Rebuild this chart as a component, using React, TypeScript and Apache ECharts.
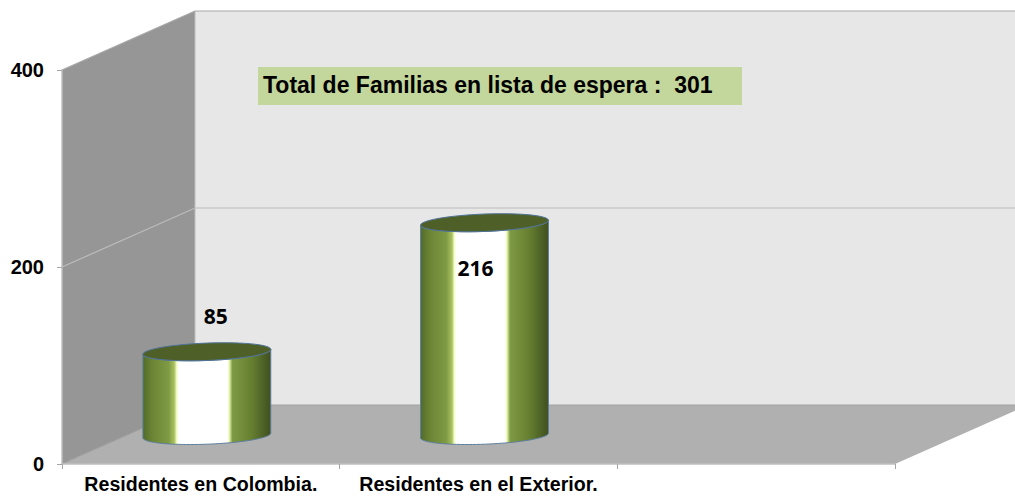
import React, { useEffect, useRef } from "react";
import * as echarts from "echarts";

const categories = ["Residentes en Colombia.", "Residentes en el Exterior.", ""];
const familias = [85, 216];
const yTicks = [0, 200, 400];
const annotation = "Total de Familias en lista de espera :  301";

const DEPTH_X = 133;
const DEPTH_Y = -59;

function ellipsePoints(cx: number, cy: number, rx: number, ry: number, tilt: number, from: number, to: number) {
  const pts: number[][] = [];
  const n = 48;
  for (let i = 0; i <= n; i++) {
    const t = from + ((to - from) * i) / n;
    const ex = rx * Math.cos(t);
    const ey = ry * Math.sin(t);
    pts.push([cx + ex * Math.cos(tilt) - ey * Math.sin(tilt), cy + ex * Math.sin(tilt) + ey * Math.cos(tilt)]);
  }
  return pts;
}

const bodyGradient = {
  type: "linear", x: 0, y: 0, x2: 1, y2: 0,
  colorStops: [
    { offset: 0, color: "#526b2a" },
    { offset: 0.07, color: "#6a8434" },
    { offset: 0.2, color: "#7f9a44" },
    { offset: 0.245, color: "#a9c060" },
    { offset: 0.265, color: "#f4ffc8" },
    { offset: 0.28, color: "#ffffff" },
    { offset: 0.66, color: "#ffffff" },
    { offset: 0.675, color: "#ecf8b4" },
    { offset: 0.7, color: "#7f9a44" },
    { offset: 0.85, color: "#657f30" },
    { offset: 1, color: "#3f4f20" },
  ],
};

function renderWalls(params: any, api: any) {
  const cs = params.coordSys;
  const v = api.value(0);
  const x0 = cs.x;
  const x1 = cs.x + cs.width;
  const y = api.coord([0, v])[1];
  const bottom = cs.y + cs.height;
  const top = cs.y;
  const children: any[] = [];
  if (v === yTicks[0]) {
    children.push(
      { type: "polygon", shape: { points: [[x0 + DEPTH_X, top + DEPTH_Y], [x1 + DEPTH_X, top + DEPTH_Y], [x1 + DEPTH_X, bottom + DEPTH_Y], [x0 + DEPTH_X, bottom + DEPTH_Y]] }, style: { fill: "#e7e7e7" } },
      { type: "polygon", shape: { points: [[x0, top], [x0 + DEPTH_X, top + DEPTH_Y], [x0 + DEPTH_X, bottom + DEPTH_Y], [x0, bottom]] }, style: { fill: "#969696" } },
      { type: "polygon", shape: { points: [[x0, bottom], [x1, bottom], [x1 + DEPTH_X, bottom + DEPTH_Y], [x0 + DEPTH_X, bottom + DEPTH_Y]] }, style: { fill: "#b0b0b0" } },
      { type: "line", shape: { x1: x0 + DEPTH_X, y1: top + DEPTH_Y, x2: x0 + DEPTH_X, y2: bottom + DEPTH_Y }, style: { stroke: "#bdbdbd", lineWidth: 1 } }
    );
  }
  const color = v === yTicks[0] ? "#a2a2a2" : v === yTicks[2] ? "#a8a8a8" : "#bcbcbc";
  children.push({
    type: "polyline",
    shape: { points: [[x0, y], [x0 + DEPTH_X, y + DEPTH_Y], [x1 + DEPTH_X, y + DEPTH_Y]] },
    style: { stroke: color, lineWidth: 1.2, fill: "none" },
  });
  return { type: "group", children };
}

function renderCylinder(params: any, api: any) {
  const idx = api.value(0);
  const val = api.value(1);
  const base = api.coord([idx, 0]);
  const head = api.coord([idx, val]);
  const cx = base[0] + 6;
  const lift = 28.5;
  const yb = base[1] - lift;
  const yt = head[1] - lift;
  const rx = 64;
  const ry = 8.7;
  const tilt = (-2.2 * Math.PI) / 180;
  const front = ellipsePoints(cx, yb, rx, ry, tilt, Math.PI, 0);
  const back = ellipsePoints(cx, yt, rx, ry, tilt, 0, Math.PI);
  const labelY = val > 150 ? yt + 45 : yt - 36;
  const labelX = val > 150 ? cx - 9 : cx + 9;
  return {
    type: "group",
    children: [
      { type: "polygon", shape: { points: [...front, ...back] }, style: { fill: bodyGradient, stroke: "#5f7f9f", lineWidth: 1 } },
      { type: "polygon", shape: { points: ellipsePoints(cx, yt, rx, ry, tilt, 0, Math.PI * 2) }, style: { fill: "#4f5f28", stroke: "#4f7396", lineWidth: 1 } },
      {
        type: "text", x: labelX, y: labelY,
        style: { text: String(val), fill: "#000", font: "bold 21px 'Open Sans'", align: "center", verticalAlign: "middle" },
      },
    ],
  };
}

export default function App() {
  const ref = useRef<HTMLDivElement>(null);
  useEffect(() => {
    const chart = echarts.init(ref.current!, undefined, { renderer: "svg" });
    chart.setOption({
      animation: false,
      backgroundColor: "#ffffff",
      grid: { left: 62, right: 120, top: 70, bottom: 32, outerBoundsMode: "none" },
      xAxis: {
        type: "category",
        data: categories,
        z: 5,
        axisLine: { lineStyle: { color: "#bfbfbf", width: 1.5 } },
        axisTick: { show: true, length: 5, alignWithLabel: false, lineStyle: { color: "#a6a6a6" } },
        axisLabel: { interval: 0, color: "#000", fontFamily: "Liberation Sans", fontWeight: "bold", fontSize: 19.6, lineHeight: 16, margin: 12 },
      },
      yAxis: {
        type: "value",
        min: 0,
        max: 400,
        interval: 200,
        z: 5,
        axisLine: { show: true, lineStyle: { color: "#bfbfbf", width: 1.5 } },
        axisTick: { show: true, length: 5, lineStyle: { color: "#a6a6a6" } },
        splitLine: { show: false },
        axisLabel: { color: "#000", fontFamily: "Liberation Sans", fontWeight: "bold", fontSize: 20, margin: 18, padding: [7, 0, 0, 0] },
      },
      series: [
        { type: "custom", coordinateSystem: "cartesian2d", z: 1, silent: true, data: yTicks.map((t) => [t]), encode: { y: 0 }, renderItem: renderWalls },
        { type: "custom", coordinateSystem: "cartesian2d", z: 3, data: familias.map((v, i) => [i, v]), encode: { x: 0, y: 1 }, renderItem: renderCylinder },
      ],
      graphic: [
        { type: "rect", z: 10, shape: { x: 258, y: 67, width: 484, height: 38 }, style: { fill: "#c3d69b" } },
        { type: "text", z: 11, x: 263, y: 85, style: { text: annotation, fill: "#000", font: "bold 23px 'Liberation Sans'", verticalAlign: "middle", align: "left" } },
      ],
    });
    return () => chart.dispose();
  }, []);
  return <div ref={ref} style={{ position: "absolute", left: 0, top: 0, width: 1015, height: 496, overflow: "hidden" }} />;
}
